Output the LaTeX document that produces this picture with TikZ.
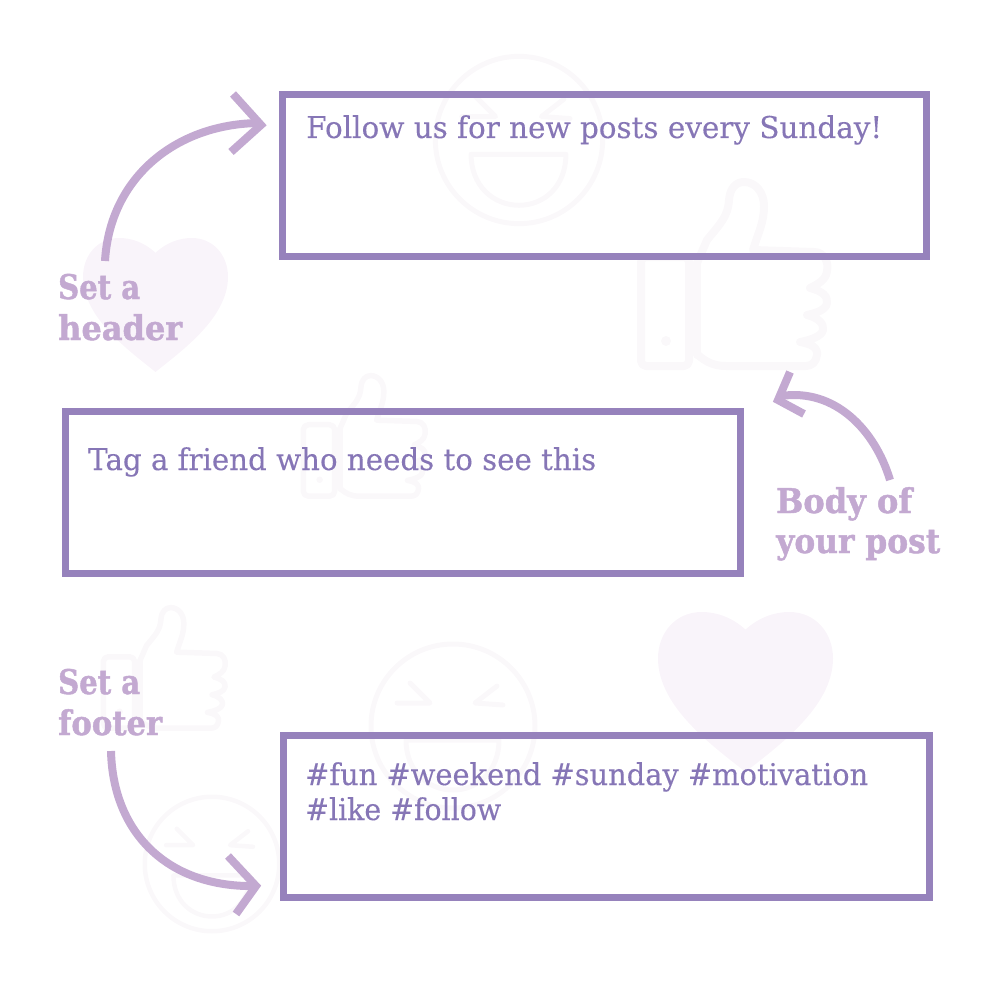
\documentclass[tikz,border=0pt]{standalone}
\usepackage{graphicx}
\usepackage{fontspec}
\setmainfont{DejaVu Serif}[FakeBold=0.2,BoldFeatures={FakeBold=1.4}]
\definecolor{boxline}{HTML}{9682BC}
\definecolor{boxtext}{HTML}{8676B6}
\definecolor{accent}{HTML}{C3A9D1}
\definecolor{ghost}{HTML}{FAF8FA}
\definecolor{ghostfill}{HTML}{F9F4FA}
\newcommand{\fitw}[2]{\resizebox{#1pt}{\height}{#2}}
\newcommand{\twolines}[3]{\vbox{\baselineskip=#1pt\lineskiplimit=-100pt\hbox{#2}\hbox{#3}}}
% #1 x, #2 y, #3 width, #4 height
\newcommand{\heartglyph}[4]{%
  \fill[ghostfill,shift={(#1,#2)},xscale=#3,yscale=#4]
    (.5,.11) .. controls (.42,.03) and (.33,0) .. (.25,0)
    .. controls (.1,0) and (0,.13) .. (0,.29)
    .. controls (0,.6) and (.33,.85) .. (.5,1)
    .. controls (.67,.85) and (1,.6) .. (1,.29)
    .. controls (1,.13) and (.9,0) .. (.75,0)
    .. controls (.67,0) and (.58,.03) .. (.5,.11) -- cycle;}
% #1 x, #2 y, #3 scale, #4 line width
\newcommand{\thumbglyph}[4]{%
  \begin{scope}[shift={(#1,#2)},xscale=#3,yscale=#3,ghost,line width=#4pt,line join=round,line cap=round]
    \draw[rounded corners=5pt] (5,79) rectangle (53,188);
    \fill (30,163) circle (5);
    \draw (61,85) -- (71,62) .. controls (85,45) and (92,38) .. (93,22)
      .. controls (94,10) and (100,4) .. (108,4)
      .. controls (120,4) and (128,15) .. (128,28)
      .. controls (128,45) and (122,55) .. (117,72) -- (178,74)
      .. controls (188,74) and (193,84) .. (191,93)
      .. controls (190,102) and (182,106) .. (174,110)
      .. controls (186,113) and (192,118) .. (191,125)
      .. controls (190,132) and (180,135) .. (171,137)
      .. controls (183,140) and (188,146) .. (187,152)
      .. controls (186,158) and (175,162) .. (164,164)
      .. controls (176,166) and (182,170) .. (181,177)
      .. controls (180,184) and (176,188) .. (170,188) -- (90,188)
      .. controls (78,188) and (70,184) .. (62,177);
    \draw (61,85) -- (61,177);
  \end{scope}}
% #1 cx, #2 cy, #3 scale, #4 line width
\newcommand{\smileglyph}[4]{%
  \begin{scope}[shift={(#1,#2)},xscale=#3,yscale=#3,ghost,line width=#4pt,line join=round,line cap=round]
    \draw (0,0) circle (82);
    \draw (-43,-43) -- (-23,-23) -- (-56,-23);
    \draw (44,-40) -- (22,-23) -- (50,-21);
    \draw (-47,14) -- (46,14) .. controls (46,45) and (25,64) .. (0,64) .. controls (-25,64) and (-47,45) .. (-47,14) -- cycle;
  \end{scope}}
\tikzset{
  framebox/.style={draw=boxline,line width=7pt,fill=none,inner sep=0pt,minimum width=#1,minimum height=162pt,miter limit=10},
  boxcopy/.style={anchor=base west,inner sep=0pt,text=boxtext,font=\fontsize{30}{35}\selectfont},
  callout/.style={anchor=base west,inner sep=0pt,text=accent,font=\fontsize{34}{41}\selectfont\bfseries},
  arrowcurve/.style={draw=accent,line width=8pt,line cap=butt},
  arrowbarb/.style={draw=accent,line width=8pt,line join=miter,line cap=butt,miter limit=10}
}
\begin{document}
\begin{tikzpicture}[x=1pt,y=-1pt]
\useasboundingbox (0,0) rectangle (1000,1000);
% faint background icons
\heartglyph{83}{238}{145}{134}
\heartglyph{658}{612}{175}{160}
\thumbglyph{636}{178}{1}{8}
\thumbglyph{300}{373}{0.655}{5.5}
\thumbglyph{100}{605}{0.655}{5.5}
\smileglyph{519}{140}{1.02}{5}
\smileglyph{453}{726}{1.0}{5}
\smileglyph{212}{864}{0.82}{4.5}
% text boxes
\node[framebox=644pt] (headerbox) at (604.5,175.5) {};
\node[framebox=675pt] (bodybox) at (403,492.5) {};
\node[framebox=645.5pt] (footerbox) at (606.25,816.25) {};
% box copy
\node[boxcopy] (headertext) at (306,138) {\fitw{576}{Follow us for new posts every Sunday!}};
\node[boxcopy] (bodytext) at (88,470) {\fitw{508}{Tag a friend who needs to see this}};
\node[boxcopy] (footertext) at (305,820) {\twolines{35}{\fitw{563}{\#fun \#weekend \#sunday \#motivation}}{\fitw{196}{\#like \#follow}}};
% callouts
\node[callout] (headerlabel) at (58,340) {\twolines{41}{\fitw{82}{Set a}}{\fitw{124}{header}}};
\node[callout] (bodylabel) at (776,553) {\twolines{40}{\fitw{136}{Body of}}{\fitw{164}{your post}}};
\node[callout] (footerlabel) at (58,735) {\twolines{41}{\fitw{82}{Set a}}{\fitw{104}{footer}}};
% arrows
\coordinate (a1s) at (105,261); \coordinate (a1e) at (261,123);
\coordinate (a1t) at (261,125); \coordinate (a1u) at (233,94); \coordinate (a1d) at (231,152);
\draw[arrowcurve] (a1s) .. controls (110,176) and (178,123) .. (a1e);
\draw[arrowbarb] (a1u) -- (a1t) -- (a1d);
\coordinate (a2s) at (890,480); \coordinate (a2e) at (781,396);
\coordinate (a2t) at (778,400); \coordinate (a2u) at (790,372); \coordinate (a2d) at (804,414);
\draw[arrowcurve] (a2s) .. controls (875,430) and (835,388) .. (a2e);
\draw[arrowbarb] (a2u) -- (a2t) -- (a2d);
\coordinate (a3s) at (111,751); \coordinate (a3e) at (256,886);
\coordinate (a3t) at (256,886); \coordinate (a3u) at (228,856); \coordinate (a3d) at (236,914);
\draw[arrowcurve] (a3s) .. controls (113,835) and (170,888) .. (a3e);
\draw[arrowbarb] (a3u) -- (a3t) -- (a3d);
\end{tikzpicture}
\end{document}
